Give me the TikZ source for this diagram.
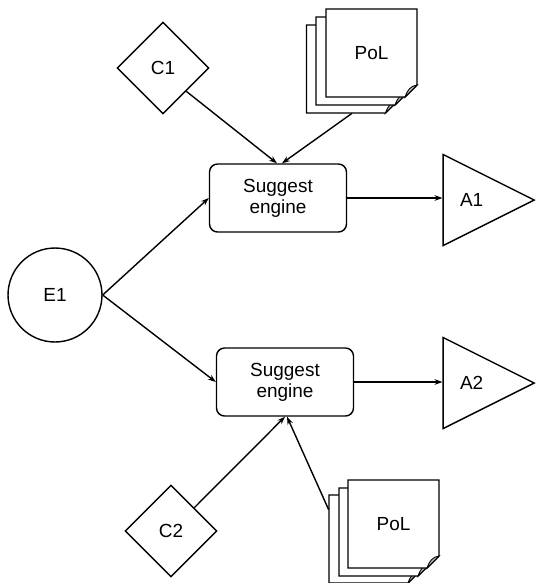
\documentclass[tikz,border=0pt]{standalone}
\usepackage{fontspec}
\setmainfont{Liberation Sans}
\usetikzlibrary{shapes.geometric,arrows.meta}
\tikzset{
base/.style={
	draw, line width=0.8pt, inner sep=0pt,
	font=\fontsize{10.8}{12}\selectfont},
event/.style={base, circle, minimum size=1.88cm},
cond/.style={base, diamond, minimum width=1.84cm, minimum height=1.84cm},
engine/.style={base, rounded corners=0.16cm, minimum width=2.74cm,
	minimum height=1.36cm, align=center},
action/.style={base, isosceles triangle, isosceles triangle stretches,
	minimum width=1.82cm, minimum height=1.82cm, shape border rotate=0},
sheet/.style={inner sep=0pt, minimum width=1.82cm, minimum height=1.76cm,
	font=\fontsize{10.8}{12}\selectfont},
docline/.style={line width=0.8pt, fill=white, line join=miter},
flow/.style={line width=0.8pt, -{Stealth[length=4.5pt,width=3.2pt]}}
}
% one page of a stack: name, position, text
\newcommand{\polsheet}[3]{%
	\begin{scope}[shift={#2}]
		\draw[docline] (-45.5,-44) -- (45.5,-44) -- (45.5,32) -- (33.5,44)
			-- (-45.5,44) -- cycle;
		\filldraw[fill=black!25, line width=0.5pt] (45.5,32)
			.. controls (39,33) and (36,37) .. (33.5,44) -- cycle;
	\end{scope}
	\node[sheet] (#1) at #2 {#3};
}

\begin{document}
\begin{tikzpicture}[x=0.02cm, y=-0.02cm]
	\useasboundingbox (0,0) rectangle (536,583);
	\node[event] (e1) at (55,295) {E1};
	\node[cond] (c1) at (163,68) {C1};
	\node[cond] (c2) at (171,531) {C2};
	\node[engine] (eng1) at (278,198) {Suggest\\engine};
	\node[engine] (eng2) at (285,382) {Suggest\\engine};
	\node[action, anchor=apex] (a1) at (536,200) {A1};
	\node[action, anchor=apex] (a2) at (536,383) {A2};
	% stacks of pages
	\polsheet{pu3}{(352,69)}{}
	\polsheet{pu2}{(361.5,61)}{}
	\polsheet{pu1}{(371.5,53)}{PoL}
	\polsheet{pl3}{(374.5,539)}{}
	\polsheet{pl2}{(384.5,532)}{}
	\polsheet{pl1}{(393.5,524)}{PoL}
	% connectors
	\draw[flow] (c1.south east) -- ([xshift=-0.02cm]eng1.north);
	\draw[flow] (pu3.south) -- ([xshift=0.08cm]eng1.north);
	\draw[flow] (e1.east) -- (eng1.west);
	\draw[flow] (e1.east) -- (eng2.west);
	\draw[flow] (eng1.east) -- (eng1.east -| a1.west);
	\draw[flow] (eng2.east) -- (eng2.east -| a2.west);
	\draw[flow] (c2.north east) -- (eng2.south);
	\draw[flow] ([yshift=-0.3cm]pl3.north west) -- ([xshift=0.04cm]eng2.south);
\end{tikzpicture}
\end{document}
